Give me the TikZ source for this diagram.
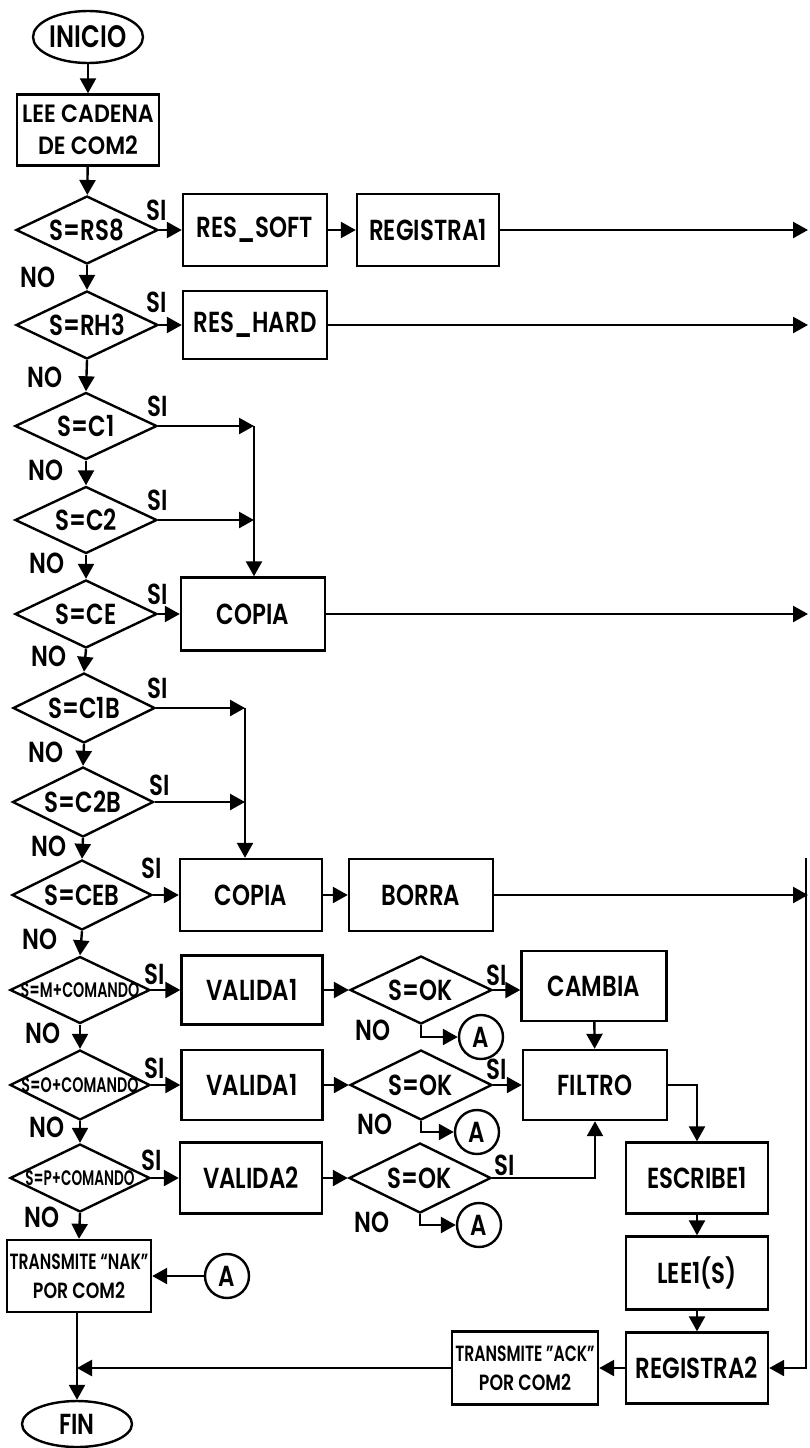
\documentclass[tikz,border=0pt]{standalone}
\usepackage{fontspec}
\setmainfont{Poppins}[UprightFont=* SemiBold,FakeStretch=0.79]
\usetikzlibrary{shapes.geometric,arrows.meta}
\newcommand{\dtx}[1]{\makebox[0pt]{#1}}
\newcommand{\hsq}[2]{\scalebox{#1}[1]{#2}}
\begin{document}
\begin{tikzpicture}[x=1pt,y=-1pt,line width=2.4pt,
  every node/.style={font=\fontsize{29}{31}\selectfont,inner sep=0pt},
  box/.style={draw,rectangle,minimum width=142pt,minimum height=71pt,align=center},
  dec/.style={draw,diamond,minimum width=142pt,minimum height=68pt},
  term/.style={draw,ellipse,minimum width=110pt,minimum height=52pt},
  conn/.style={draw,circle,minimum size=44pt},
  twoline/.style={font=\fontsize{22}{29}\selectfont},
  arr/.style={-{Triangle[length=15pt,width=16pt]}}]
\useasboundingbox (0,0) rectangle (809,1448);
% ---------- nodes ----------
\node[term] (ini) at (88,37) {\fontsize{31}{33}\selectfont INICIO};
\node[box,font=\fontsize{25}{32}\selectfont] (lee) at (88,130) {\hsq{1.12}{LEE CADENA}\\\hsq{1.12}{DE COM2}};
\node[dec] (d1) at (87,230) {\dtx{S=RS8}};
\node[box,minimum width=144pt,minimum height=72pt] (soft) at (255,230) {RES\_SOFT};
\node[box,minimum height=72pt] (reg1) at (428,230) {REGISTRA1};
\node[dec] (d2) at (87,325) {\dtx{S=RH3}};
\node[box,minimum width=144pt,minimum height=68pt] (hard) at (255,325) {RES\_HARD};
\node[dec,minimum height=67pt] (d3) at (86,426) {\dtx{S=C1}};
\node[dec,minimum height=67pt] (d4) at (86,520) {\dtx{S=C2}};
\node[dec] (d5) at (86,614) {\dtx{S=CE}};
\node[box,minimum width=144pt,minimum height=73pt] (cop1) at (253,614) {COPIA};
\node[dec,minimum height=70pt] (d6) at (84,708) {\dtx{S=C1B}};
\node[dec,minimum width=141pt,minimum height=70pt] (d7) at (83,802) {\dtx{S=C2B}};
\node[dec,minimum width=140pt,minimum height=70pt] (d8) at (82,895) {\dtx{S=CEB}};
\node[box,minimum height=72pt] (cop2) at (251,895) {COPIA};
\node[box,minimum width=144pt,minimum height=72pt] (borra) at (421,895) {BORRA};
\node[dec,minimum width=140pt,minimum height=67pt] (d9) at (80,990) {\dtx{\fontsize{21}{23}\selectfont\hsq{0.86}{S=M+COMANDO}}};
\node[box,minimum width=141pt,minimum height=69pt] (val1) at (252,990) {VALIDA1};
\node[dec,minimum height=68pt] (ok1) at (421,990) {\dtx{S=OK}};
\node[box,minimum width=145pt,minimum height=70pt] (cambia) at (594,986) {CAMBIA};
\node[conn] (a1) at (481,1037) {A};
\node[dec,minimum width=140pt,minimum height=70pt] (d10) at (80,1085) {\dtx{\fontsize{21}{23}\selectfont\hsq{0.86}{S=O+COMANDO}}};
\node[box,minimum width=141pt,minimum height=70pt] (val1b) at (252,1085) {VALIDA1};
\node[dec,minimum height=70pt] (ok2) at (421,1085) {\dtx{S=OK}};
\node[box,minimum width=144pt,minimum height=70pt] (filtro) at (595,1085) {FILTRO};
\node[conn] (a2) at (477,1132) {A};
\node[dec,minimum width=140pt,minimum height=68pt] (d11) at (80,1178) {\dtx{\fontsize{21}{23}\selectfont\hsq{0.82}{S=P+COMANDO}}};
\node[box,minimum height=71pt] (val2) at (251,1178) {VALIDA2};
\node[dec,minimum height=70pt] (ok3) at (420,1178) {\dtx{S=OK}};
\node[conn] (a3) at (479,1225) {A};
\node[box,minimum height=71pt] (esc) at (697,1178) {ESCRIBE1};
\node[box,minimum height=73pt] (lee1) at (697,1273) {LEE1(S)};
\node[box,minimum height=71pt] (reg2) at (697,1368) {REGISTRA2};
\node[box,minimum width=146pt,minimum height=73pt,twoline] (ack) at (525,1368) {\hsq{0.9}{TRANSMITE "ACK"}\\POR COM2};
\node[box,minimum width=144pt,minimum height=72pt,twoline] (nak) at (79,1276) {\hsq{0.9}{TRANSMITE “NAK”}\\POR COM2};
\node[conn] (a4) at (227,1276) {A};
\node[term,minimum height=46pt] (fin) at (77,1424) {FIN};
% ---------- SI / NO labels ----------
\node (si1) at (157,210) {SI};
\node (no1) at (38,277) {NO};
\node (si2) at (157,302) {SI};
\node (no2) at (45,377) {NO};
\node (si3) at (158,406) {SI};
\node (no3) at (46,470) {NO};
\node (si4) at (158,500) {SI};
\node (no4) at (47,563) {NO};
\node (si5) at (158,594) {SI};
\node (no5) at (49,656) {NO};
\node (si6) at (158,688) {SI};
\node (no6) at (46,752) {NO};
\node (si7) at (160,785) {SI};
\node (no7) at (49,846) {NO};
\node (si8) at (152,868) {SI};
\node (no8) at (40,939) {NO};
\node (si9) at (155,974) {SI};
\node (no9) at (43,1033) {NO};
\node (si10) at (155,1068) {SI};
\node (no10) at (47,1127) {NO};
\node (si11) at (152,1160) {SI};
\node (no11) at (42,1217) {NO};
\node (sok1) at (497,975) {SI};
\node (nok1) at (373,1030) {NO};
\node (sok2) at (497,1069) {SI};
\node (nok2) at (375,1124) {NO};
\node (sok3) at (505,1165) {SI};
\node (nok3) at (372,1222) {NO};
% ---------- helper coordinates ----------
\coordinate (edge) at (808,0);
\coordinate (j1) at (254,426);
\coordinate (j2) at (254,520);
\coordinate (j3) at (245,708);
\coordinate (j4) at (245,802);
\coordinate (rt) at (806,858);
% ---------- connectors ----------
\draw[arr] (ini) -- (lee);
\draw[arr] (lee) -- (d1);
\draw[arr] (d1.east) -- (soft.west);
\draw[arr] (soft) -- (reg1);
\draw[arr] (reg1.east) -- (reg1.east -| edge);
\draw[arr] (d1.south) -- (d2.north);
\draw[arr] (d2.east) -- (hard.west);
\draw[arr] (hard.east) -- (hard.east -| edge);
\draw[arr] (d2.south) -- (d3.north);
\draw[arr] (d3.east) -- (j1);
\draw[arr] (d3.south) -- (d4.north);
\draw[arr] (d4.east) -- (j2);
\draw[arr] (j1) -- (j1 |- cop1.north);
\draw[arr] (d4.south) -- (d5.north);
\draw[arr] (d5.east) -- (cop1.west);
\draw[arr] (cop1.east) -- (cop1.east -| edge);
\draw[arr] (d5.south) -- (d6.north);
\draw[arr] (d6.east) -- (j3);
\draw[arr] (d6.south) -- (d7.north);
\draw[arr] (d7.east) -- (j4);
\draw[arr] (j3) -- (j3 |- cop2.north);
\draw[arr] (d7.south) -- (d8.north);
\draw[arr] (d8.east) -- (cop2.west);
\draw[arr] (cop2) -- (borra);
\draw[arr] (borra.east) -- (borra.east -| edge);
\draw[arr] (rt) |- (reg2.east);
\draw[arr] (d8.south) -- (d9.north);
\draw[arr] (d9.east) -- (val1.west);
\draw[arr] (val1) -- (ok1);
\draw[arr] (ok1.east) -- (ok1.east -| cambia.west);
\draw[arr] (ok1.south) |- (a1.west);
\draw[arr] (cambia) -- (filtro);
\draw[arr] (d9.south) -- (d10.north);
\draw[arr] (d10.east) -- (val1b.west);
\draw[arr] (val1b) -- (ok2);
\draw[arr] (ok2.east) -- (filtro.west);
\draw[arr] (ok2.south) |- (a2.west);
\draw[arr] (d10.south) -- (d11.north);
\draw[arr] (d11.east) -- (val2.west);
\draw[arr] (val2) -- (ok3);
\draw[arr] (ok3.east) -| (filtro.south);
\draw[arr] (ok3.south) |- (a3.west);
\draw[arr] (filtro.east) -| (esc.north);
\draw[arr] (esc) -- (lee1);
\draw[arr] (lee1) -- (reg2);
\draw[arr] (reg2) -- (ack);
\draw[arr] (ack.west) -- (ack.west -| fin.north);
\draw[arr] (d11.south) -- (nak.north);
\draw[arr] (a4) -- (nak.east);
\draw[arr] (nak.south -| fin.north) -- (fin.north);
\end{tikzpicture}
\end{document}
